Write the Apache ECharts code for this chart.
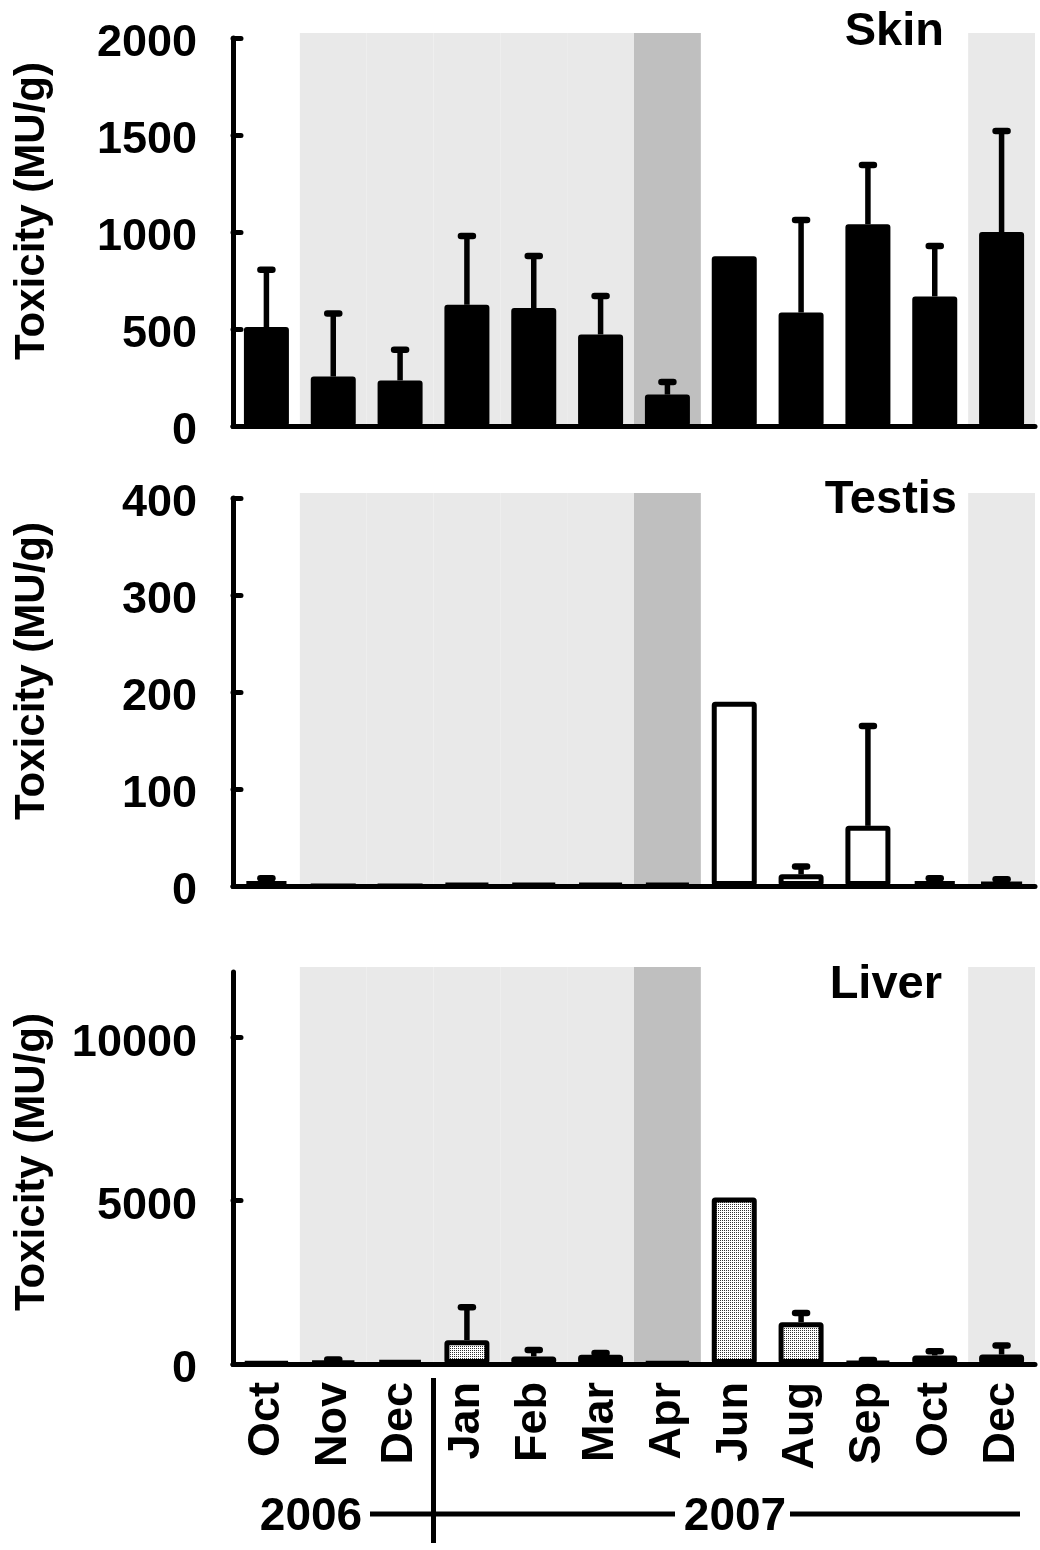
<!DOCTYPE html>
<html>
<head>
<meta charset="utf-8">
<script src="https://cdn.jsdelivr.net/npm/echarts@6/dist/echarts.min.js"></script>
<style>
html, body { margin: 0; padding: 0; background: #fff; }
#chart { width: 1040px; height: 1550px; }
</style>
</head>
<body>
<div id="chart"></div>
<script>
// sampling months, Oct 2006 - Dec 2007
var months = ['Oct', 'Nov', 'Dec', 'Jan', 'Feb', 'Mar', 'Apr', 'Jun', 'Aug', 'Sep', 'Oct', 'Dec'];
// 0 = none, 1 = light shaded period, 2 = dark shaded period
var season = [0, 1, 1, 1, 1, 1, 2, 0, 0, 0, 0, 1];

var skinMean = [510, 255, 235, 625, 608, 472, 162, 875, 585, 1040, 668, 1000];
var skinSD = [295, 325, 158, 355, 268, 198, 65, 0, 477, 305, 260, 520];
var testisMean = [5, 0, 0, 2, 2, 2, 2, 190, 12, 62, 5, 4];
var testisSD = [3, 0, 0, 0, 0, 0, 0, 0, 8, 103, 3, 3];
var liverMean = [50, 80, 100, 730, 230, 280, 50, 5100, 1280, 60, 260, 290];
var liverSD = [0, 60, 0, 1010, 200, 60, 0, 0, 280, 60, 130, 280];

var skinTicks = [0, 500, 1000, 1500, 2000];
var testisTicks = [0, 100, 200, 300, 400];
var liverTicks = [0, 5000, 10000];

var FONT = '"Liberation Sans", Arial, Helvetica, sans-serif';

// stipple fill for the liver bars
var dots = document.createElement('canvas');
dots.width = 2;
dots.height = 2;
var dctx = dots.getContext('2d');
dctx.fillStyle = '#fff';
dctx.fillRect(0, 0, 2, 2);
dctx.fillStyle = '#333';
dctx.fillRect(0, 0, 1, 1);

var panels = [
  { title: 'Skin', mean: skinMean, sd: skinSD, ticks: skinTicks, max: 2000, top: 38, height: 388,
    titleRight: 96, titleTop: 9, nameShift: 42,
    bar: { color: '#000', borderColor: '#000', borderWidth: 2, borderRadius: 2 } },
  { title: 'Testis', mean: testisMean, sd: testisSD, ticks: testisTicks, max: 400, top: 498, height: 388,
    titleRight: 83, titleTop: 477, nameShift: 42,
    bar: { color: '#fff', borderColor: '#000', borderWidth: 5, borderRadius: 1 } },
  { title: 'Liver', mean: liverMean, sd: liverSD, ticks: liverTicks, max: 12000, top: 972, height: 392,
    titleRight: 98, titleTop: 962, nameShift: 12,
    bar: { color: { image: dots, repeat: 'repeat' }, borderColor: '#000', borderWidth: 5, borderRadius: 1 } }
];

function bandItem(top) {
  return function (params, api) {
    var s = api.value(1);
    if (!s) return null;
    var w = api.size([1, 0])[0];
    var base = api.coord([api.value(0), 0]);
    var hi = api.coord([api.value(0), top]);
    return {
      type: 'rect',
      shape: { x: base[0] - w / 2, y: hi[1] - 5, width: w, height: base[1] - hi[1] + 5 },
      style: { fill: s === 2 ? '#bfbfbf' : '#e9e9e9' }
    };
  };
}

function errItem(params, api) {
  var i = api.value(0), m = api.value(1), e = api.value(2);
  if (!e) return null;
  var p0 = api.coord([i, m]);
  var p1 = api.coord([i, m + e]);
  return {
    type: 'group',
    children: [
      { type: 'line', shape: { x1: p0[0], y1: p0[1], x2: p1[0], y2: p1[1] },
        style: { stroke: '#000', lineWidth: 5.5 } },
      { type: 'line', shape: { x1: p1[0] - 6, y1: p1[1], x2: p1[0] + 6, y2: p1[1] },
        style: { stroke: '#000', lineWidth: 6.5, lineCap: 'round' } }
    ]
  };
}

var grid = [], xAxis = [], yAxis = [], series = [], title = [];

panels.forEach(function (p, k) {
  var last = k === panels.length - 1;
  grid.push({ left: 233, right: 5, top: p.top, height: p.height, outerBoundsMode: 'none' });
  title.push({
    text: p.title, right: p.titleRight, top: p.titleTop, padding: 0,
    textStyle: { fontFamily: FONT, fontSize: 47, fontWeight: 'bold', color: '#000' }
  });
  xAxis.push({
    type: 'category', gridIndex: k, data: months, z: 5,
    axisLine: { lineStyle: { color: '#000', width: 5, cap: 'round' } },
    axisTick: { inside: true, length: 7, lineStyle: { color: '#000', width: 4, cap: 'round' } },
    axisLabel: {
      show: last, interval: 0, rotate: 90, margin: 18,
      fontFamily: FONT, fontSize: 45, fontWeight: 'bold', color: '#000'
    },
    splitLine: { show: false }
  });
  yAxis.push({
    type: 'value', gridIndex: k, min: 0, max: p.max, z: 5,
    name: 'Toxicity (MU/g)', nameLocation: 'middle', nameRotate: 90, nameGap: 180,
    nameMoveOverlap: false,
    nameTextStyle: { fontFamily: FONT, fontSize: 42, fontWeight: 'bold', color: '#000',
      padding: [0, 0, 0, p.nameShift] },
    axisLine: { show: true, lineStyle: { color: '#000', width: 5, cap: 'round' } },
    axisTick: { show: true, inside: true, length: 8, customValues: p.ticks,
      lineStyle: { color: '#000', width: 5, cap: 'round' } },
    axisLabel: { customValues: p.ticks, margin: 36, verticalAlign: 'top', lineHeight: 12,
      formatter: function (v) { return String(v); },
      fontFamily: FONT, fontSize: 45, fontWeight: 'bold', color: '#000' },
    splitLine: { show: false }
  });
  series.push({
    type: 'custom', xAxisIndex: k, yAxisIndex: k, z: 1, silent: true,
    renderItem: bandItem(p.max), clip: false,
    encode: { x: 0, y: 1 },
    data: season.map(function (s, i) { return [i, s]; })
  });
  series.push({
    type: 'bar', xAxisIndex: k, yAxisIndex: k, z: 2, barWidth: 45,
    itemStyle: p.bar,
    data: p.mean
  });
  series.push({
    type: 'custom', xAxisIndex: k, yAxisIndex: k, z: 3, clip: false,
    renderItem: errItem,
    encode: { x: 0, y: 1 },
    data: p.mean.map(function (m, i) { return [i, m, p.sd[i]]; })
  });
});

var chart = echarts.init(document.getElementById('chart'), null, { renderer: 'canvas' });
chart.setOption({
  animation: false,
  backgroundColor: '#fff',
  title: title,
  grid: grid,
  xAxis: xAxis,
  yAxis: yAxis,
  series: series
});

// year bracket under the bottom axis
var xDec = chart.convertToPixel({ xAxisIndex: 2 }, 2);
var xJan = chart.convertToPixel({ xAxisIndex: 2 }, 3);
var split = (xDec + xJan) / 2;
var yearStyle = { fontFamily: FONT, fontSize: 46, fontWeight: 'bold', fill: '#000' };
var rule = { stroke: '#000', lineWidth: 5 };
chart.setOption({
  graphic: [
    { type: 'line', shape: { x1: split, y1: 1378, x2: split, y2: 1543 }, style: rule },
    { type: 'line', shape: { x1: 370, y1: 1514, x2: 675, y2: 1514 }, style: rule },
    { type: 'line', shape: { x1: 790, y1: 1514, x2: 1020, y2: 1514 }, style: rule },
    { type: 'text', x: 311, y: 1517, style: Object.assign({ text: '2006', align: 'center', verticalAlign: 'middle' }, yearStyle) },
    { type: 'text', x: 735, y: 1517, style: Object.assign({ text: '2007', align: 'center', verticalAlign: 'middle' }, yearStyle) }
  ]
});
</script>
</body>
</html>
